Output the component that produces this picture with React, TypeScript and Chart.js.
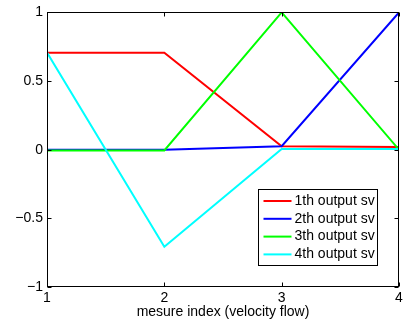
import React, { useEffect, useRef } from "react";
import { Chart, registerables } from "chart.js";

Chart.register(...registerables);

const xValues = [1, 2, 3, 4];
const series1 = [0.707, 0.707, 0.025, 0.02];
const series2 = [0, 0, 0.025, 1];
const series3 = [-0.005, -0.005, 1, 0];
const series4 = [0.707, -0.707, 0.005, 0.005];
const seriesLabels = ["1th output sv", "2th output sv", "3th output sv", "4th output sv"];
const seriesColors = ["#ff0000", "#0000ff", "#00ff00", "#00ffff"];
const xTicks = [1, 2, 3, 4];
const yTicks = [-1, -0.5, 0, 0.5, 1];
const xTitle = "mesure index (velocity flow)";

const FONT = "'Liberation Sans', Arial, Helvetica, sans-serif";

const fmt = (v: number) => (v < 0 ? "\u2212" + String(Math.abs(v)) : String(v));

const framePlugin = {
  id: "frame",
  afterDatasetsDraw(chart: any) {
    const { ctx, chartArea, scales } = chart;
    const { left, right, top, bottom } = chartArea;
    const L = Math.round(left) + 0.5;
    const R = Math.round(right) - 0.5;
    const T = Math.round(top) + 0.5;
    const B = Math.round(bottom) - 0.5;
    ctx.save();
    ctx.strokeStyle = "#000";
    ctx.lineWidth = 1;
    ctx.strokeRect(L, T, R - L, B - T);
    const tl = 4;
    ctx.beginPath();
    xTicks.forEach((v) => {
      const px = Math.round(scales.x.getPixelForValue(v)) + 0.5;
      ctx.moveTo(px, B);
      ctx.lineTo(px, B - tl);
      ctx.moveTo(px, T);
      ctx.lineTo(px, T + tl);
    });
    yTicks.forEach((v) => {
      const py = Math.round(scales.y.getPixelForValue(v)) + 0.5;
      ctx.moveTo(L, py);
      ctx.lineTo(L + tl, py);
      ctx.moveTo(R, py);
      ctx.lineTo(R - tl, py);
    });
    ctx.stroke();

    // legend inside plot area (bottom-right)
    ctx.font = `14px ${FONT}`;
    let maxW = 0;
    seriesLabels.forEach((s) => (maxW = Math.max(maxW, ctx.measureText(s).width)));
    const rowH = 17.8;
    const lineLen = 28;
    const boxW = Math.round(5 + lineLen + 3 + maxW + 3);
    const boxH = 76;
    const bx = Math.round(right) - 22 - boxW + 0.5;
    const by = Math.round(bottom) - 22 - boxH + 0.5;
    ctx.fillStyle = "#fff";
    ctx.fillRect(bx, by, boxW, boxH);
    ctx.strokeStyle = "#000";
    ctx.strokeRect(bx, by, boxW, boxH);
    seriesLabels.forEach((s, i) => {
      const cy = by + 11.5 + i * rowH;
      ctx.strokeStyle = seriesColors[i];
      ctx.lineWidth = 2;
      ctx.beginPath();
      ctx.moveTo(bx + 5, cy);
      ctx.lineTo(bx + 5 + lineLen, cy);
      ctx.stroke();
      ctx.fillStyle = "#000";
      ctx.textBaseline = "middle";
      ctx.textAlign = "left";
      ctx.fillText(s, bx + 5 + lineLen + 3, cy);
    });
    ctx.restore();
  },
};

export default function App() {
  const ref = useRef<HTMLCanvasElement | null>(null);
  useEffect(() => {
    if (!ref.current) return;
    Chart.defaults.font.family = FONT;
    const all = [series1, series2, series3, series4];
    const chart = new Chart(ref.current, {
      type: "line",
      data: {
        datasets: all.map((s, i) => ({
          label: seriesLabels[i],
          data: xValues.map((x, j) => ({ x, y: s[j] })),
          borderColor: seriesColors[i],
          backgroundColor: seriesColors[i],
          borderWidth: 2,
          pointRadius: 0,
          tension: 0,
          fill: false,
          order: 4 - i,
        })),
      },
      options: {
        responsive: false,
        animation: false,
        devicePixelRatio: 1,
        layout: { padding: { top: 10, right: 10, left: 0, bottom: 0 } },
        plugins: { legend: { display: false }, tooltip: { enabled: false } },
        scales: {
          x: {
            type: "linear",
            min: 1,
            max: 4,
            afterFit: (s: any) => {
              s.height = 43;
            },
            afterBuildTicks: (s: any) => {
              s.ticks = xTicks.map((v) => ({ value: v }));
            },
            ticks: {
              color: "#000",
              font: { size: 14 },
              padding: 3,
              maxRotation: 0,
              callback: (v: any) => fmt(Number(v)),
            },
            grid: { display: false, drawTicks: false },
            border: { display: false },
            title: {
              display: true,
              text: xTitle,
              color: "#000",
              font: { size: 14 },
              padding: { top: 0, bottom: 9 },
            },
          },
          y: {
            type: "linear",
            min: -1,
            max: 1,
            afterFit: (s: any) => {
              s.width = 47;
            },
            afterBuildTicks: (s: any) => {
              s.ticks = yTicks.map((v) => ({ value: v }));
            },
            ticks: {
              color: "#000",
              font: { size: 14 },
              padding: 4,
              callback: (v: any) => fmt(Number(v)),
            },
            grid: { display: false, drawTicks: false },
            border: { display: false },
          },
        },
      },
      plugins: [framePlugin],
    } as any);
    return () => chart.destroy();
  }, []);
  return (
    <canvas
      ref={ref}
      width={409}
      height={330}
      style={{ position: "absolute", left: 0, top: 0, width: 409, height: 330, background: "#fff" }}
    />
  );
}
